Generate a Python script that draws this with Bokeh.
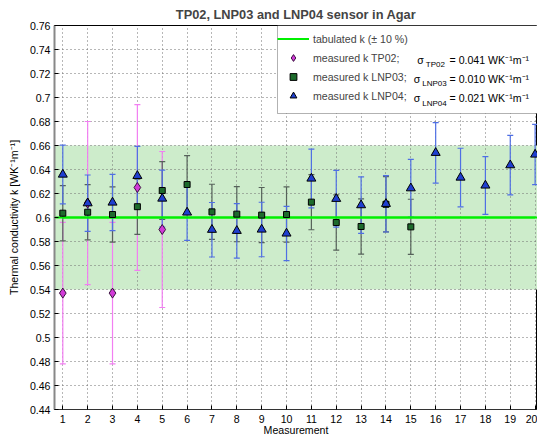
from bokeh.plotting import figure
from bokeh.models import (ColumnDataSource, Legend, LegendItem, FixedTicker,
                          CustomJSTickFormatter, Label, BoxAnnotation)
from bokeh.embed import file_html
from bokeh.resources import INLINE

# ---------------- data ----------------
title_text = "TP02, LNP03 and LNP04 sensor in Agar"
measurement = list(range(1, 21))
tabulated_k = 0.6
tolerance = 0.10

tp02_x = [1, 2, 3, 4, 5]
tp02_k = [0.537, 0.612, 0.537, 0.625, 0.590]
tp02_err = [0.059, 0.068, 0.059, 0.069, 0.065]

lnp03_x = list(range(1, 16))
lnp03_k = [0.6036, 0.6044, 0.6025, 0.6090, 0.6225, 0.6275, 0.6047, 0.6028,
           0.6020, 0.6025, 0.6128, 0.5958, 0.5925, 0.6110, 0.5922]
lnp03_err = [0.023, 0.023, 0.023, 0.023, 0.024, 0.024, 0.023, 0.023,
             0.023, 0.023, 0.023, 0.023, 0.023, 0.023, 0.023]

lnp04_x = list(range(1, 21))
lnp04_k = [0.6358, 0.6119, 0.6125, 0.6347, 0.6158, 0.6042, 0.5898, 0.5889,
           0.5900, 0.5867, 0.6325, 0.6156, 0.6103, 0.6114, 0.6244, 0.6539,
           0.6333, 0.6267, 0.6436, 0.6525]
lnp04_err = [0.0245, 0.0235, 0.0235, 0.0245, 0.0237, 0.0233, 0.0227, 0.0227,
             0.0227, 0.0226, 0.0244, 0.0237, 0.0235, 0.0235, 0.0240, 0.0252,
             0.0244, 0.0241, 0.0248, 0.0251]

sigma_tp02 = "0.041"
sigma_lnp03 = "0.010"
sigma_lnp04 = "0.021"

y_ticks = [0.44, 0.46, 0.48, 0.50, 0.52, 0.54, 0.56, 0.58, 0.60, 0.62, 0.64,
           0.66, 0.68, 0.70, 0.72, 0.74, 0.76]

FONT = "Liberation Sans"
FS = "10.6px"
UNIT = " WK\u207b\u00b9m\u207b\u00b9"

# ---------------- figure ----------------
p = figure(width=537, height=439, output_backend="svg", toolbar_location=None,
           x_range=(0.666, 20.096), y_range=(0.44, 0.76),
           min_border_left=54, min_border_right=0, min_border_top=25,
           min_border_bottom=30, background_fill_color="white",
           border_fill_color="white")

p.title.text = title_text
p.title.align = "center"
p.title.text_font = FONT
p.title.text_font_size = "12.8px"
p.title.text_font_style = "bold"
p.title.standoff = 7

p.outline_line_color = "black"

# axes
p.xaxis.ticker = FixedTicker(ticks=measurement)
p.yaxis.ticker = FixedTicker(ticks=y_ticks)
p.yaxis.formatter = CustomJSTickFormatter(code="return String(Number(tick.toFixed(2)));")
p.xaxis.axis_label = "Measurement"
p.yaxis.axis_label = "Thermal conductivity k [WK\u207b\u00b9m\u207b\u00b9]"
for ax in (p.xaxis, p.yaxis):
    ax.major_tick_in = 4
    ax.major_tick_out = 0
    ax.minor_tick_line_color = None
    ax.major_label_text_font = FONT
    ax.major_label_text_font_size = FS
    ax.major_label_text_color = "black"
    ax.axis_label_text_font = FONT
    ax.axis_label_text_font_size = FS
    ax.axis_label_text_font_style = "normal"
    ax.axis_label_text_color = "black"
    ax.major_tick_line_color = "black"
p.xaxis.axis_line_color = "#333333"
p.yaxis.axis_line_color = "#888888"
p.yaxis.axis_line_width = 2
p.xaxis.major_label_standoff = 5
p.xaxis.axis_label_standoff = -2
p.yaxis.major_label_standoff = 4
p.yaxis.axis_label_standoff = 7

# grid
p.xgrid.ticker = FixedTicker(ticks=measurement)
p.ygrid.ticker = FixedTicker(ticks=y_ticks)
for g in (p.xgrid, p.ygrid):
    g.grid_line_color = "#6e6e6e"
    g.grid_line_dash = "1 3"
    g.grid_line_width = 1

# tolerance band
p.hstrip(y0=[tabulated_k * (1 - tolerance)], y1=[tabulated_k * (1 + tolerance)],
         fill_color="#cdeccb", line_color=None, level="image")

# error bars
def src(xs, ks, es):
    return ColumnDataSource(dict(x=xs, k=ks,
                                 lo=[k - e for k, e in zip(ks, es)],
                                 hi=[k + e for k, e in zip(ks, es)]))

s_tp = src(tp02_x, tp02_k, tp02_err)
s_l3 = src(lnp03_x, lnp03_k, lnp03_err)
s_l4 = src(lnp04_x, lnp04_k, lnp04_err)

for s, col in ((s_tp, "#f27ff2"), (s_l3, "#56625a"), (s_l4, "#4f6fe4")):
    p.segment(x0="x", y0="lo", x1="x", y1="hi", source=s, line_color=col, line_width=1.2)
    p.scatter(x="x", y="lo", source=s, marker="dash", size=6, line_color=col, line_width=1.2)
    p.scatter(x="x", y="hi", source=s, marker="dash", size=6, line_color=col, line_width=1.2)

# tabulated line
TAB_COLOR = "#00f000"
p.hspan(y=[tabulated_k], line_color=TAB_COLOR, line_width=2.2)
r_tab = p.line(x=measurement, y=[tabulated_k] * len(measurement),
               line_color=TAB_COLOR, line_width=2.2)

# markers
r_tp = p.scatter(x="x", y="k", source=s_tp, marker="diamond", size=10,
                 fill_color="#d23ad8", line_color="#3a1040", line_width=1)
r_l3 = p.scatter(x="x", y="k", source=s_l3, marker="square", size=6,
                 fill_color="#1d6b2c", line_color="black", line_width=1)
r_l4 = p.scatter(x="x", y="k", source=s_l4, marker="triangle", size=9,
                 fill_color="#1f3fd0", line_color="black", line_width=1)

# legend box (white background drawn above the data)
p.add_layout(BoxAnnotation(left=223, right=700, bottom=296, top=384,
                           left_units="screen", right_units="screen",
                           bottom_units="screen", top_units="screen",
                           fill_color="white", fill_alpha=1.0,
                           line_color="black", line_width=1, level="guide",
                           editable=False))

legend = Legend(items=[
    LegendItem(label="tabulated k (\u00b1 10 %)", renderers=[r_tab]),
    LegendItem(label="measured k TP02;", renderers=[r_tp]),
    LegendItem(label="measured k LNP03;", renderers=[r_l3]),
    LegendItem(label="measured k LNP04;", renderers=[r_l4]),
], location=(223, 305), padding=6, spacing=2, glyph_width=32, glyph_height=17,
   label_height=17, label_standoff=4, label_width=260,
   label_text_font=FONT, label_text_font_size=FS,
   border_line_color=None, background_fill_alpha=0.0)
p.add_layout(legend, "center")

# sigma annotations (screen units, relative to frame)
rows = [(sigma_tp02, "TP02", 416.7, 425.3, 59.3),
        (sigma_lnp03, "LNP03", 413.3, 421.7, 78.3),
        (sigma_lnp04, "LNP04", 413.3, 421.7, 97.7)]
for sig, sub, xs, xsub, yc in rows:
    p.add_layout(Label(x=xs - 54, y=409 - yc, x_units="screen", y_units="screen",
                       text="\u03c3", text_font=FONT, text_font_size=FS,
                       text_baseline="middle", text_color="black", level="overlay"))
    p.add_layout(Label(x=xsub - 54, y=409 - yc - 5, x_units="screen", y_units="screen",
                       text=sub, text_font=FONT, text_font_size="8px",
                       text_baseline="middle", text_color="black", level="overlay"))
    p.add_layout(Label(x=449 - 54, y=409 - yc, x_units="screen", y_units="screen",
                       text="= " + sig + UNIT, text_font=FONT, text_font_size=FS,
                       text_baseline="middle", text_color="black", level="overlay"))

open("out.html", "w").write(file_html(p, INLINE))
